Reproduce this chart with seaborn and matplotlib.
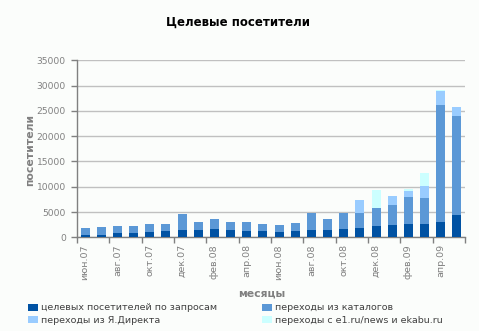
import matplotlib
matplotlib.use("Agg")
import matplotlib.pyplot as plt
from matplotlib.patches import Patch
from matplotlib.ticker import FixedLocator
import numpy as np
import pandas as pd
import seaborn as sns

# Monthly visitor sources, June 2007 - May 2009
months = ["июн.07", "июл.07", "авг.07", "сен.07", "окт.07", "ноя.07", "дек.07", "янв.08",
          "фев.08", "мар.08", "апр.08", "май.08", "июн.08", "июл.08", "авг.08", "сен.08",
          "окт.08", "ноя.08", "дек.08", "янв.09", "фев.09", "мар.09", "апр.09", "май.09"]
search_visits = [460, 460, 850, 850, 1050, 1250, 1450, 1450, 1650, 1450, 1250, 1200,
                 1000, 1190, 1390, 1390, 1620, 1830, 2220, 2420, 2620, 2600, 3000, 4380]
catalog_visits = [1380, 1580, 1390, 1390, 1580, 1380, 3150, 1580, 1970, 1580, 1780, 1400,
                  1400, 1580, 3430, 2180, 3280, 3040, 3650, 3980, 5380, 5140, 23150, 19600]
direct_visits = [0, 0, 0, 0, 0, 0, 0, 0, 0, 0, 0, 0,
                 0, 0, 0, 0, 0, 2530, 0, 1800, 1200, 2380, 2750, 1770]
news_visits = [0, 0, 0, 0, 0, 0, 0, 0, 0, 0, 0, 0,
               0, 0, 0, 0, 0, 0, 3530, 0, 400, 2580, 200, 0]

series_names = ["целевых посетителей по запросам", "переходы из каталогов",
                "переходы из Я.Директа", "переходы с e1.ru/news и ekabu.ru"]
colors = ["#0052A3", "#5B98D6", "#99CCFF", "#CCFFFF"]

df = pd.DataFrame({"month": months, "s1": search_visits, "s2": catalog_visits,
                   "s3": direct_visits, "s4": news_visits})
df["c1"] = df["s1"]
df["c2"] = df["c1"] + df["s2"]
df["c3"] = df["c2"] + df["s3"]
df["c4"] = df["c3"] + df["s4"]

bg = "#FBFDFB"
grey = "#808080"
sns.set_theme(style="white")
plt.rcParams["font.family"] = ["DejaVu Sans"]

fig = plt.figure(figsize=(4.79, 3.31), dpi=100, facecolor=bg)
ax = fig.add_axes([77 / 479, 1 - 237.3 / 331, 388 / 479, (237.3 - 60.3) / 331])
ax.set_facecolor(bg)

# Stacked bars: draw cumulative totals from the top layer down
for col, color in zip(["c4", "c3", "c2", "c1"], colors[::-1]):
    sns.barplot(data=df, x="month", y=col, color=color, saturation=1, width=0.56,
                order=months, ax=ax, linewidth=0, zorder=3)

ax.set_xlim(-0.5, len(months) - 0.5)
ax.set_ylim(0, 35000)
ax.set_yticks(np.arange(0, 35001, 5000))
ax.yaxis.grid(True, color="#C0C0C0", linewidth=1)
ax.set_axisbelow(True)
for side in ["top", "right"]:
    ax.spines[side].set_visible(False)
for side in ["left", "bottom"]:
    ax.spines[side].set_color(grey)
    ax.spines[side].set_linewidth(1)

ax.set_xticks(range(0, len(months), 2))
ax.set_xticklabels(months[::2], rotation=90, fontsize=6.8, color=grey)
ax.xaxis.set_minor_locator(FixedLocator(np.arange(-0.5, len(months), 2)))
ax.tick_params(axis="x", which="major", length=0, pad=5)
ax.tick_params(axis="x", which="minor", length=4, width=1, color=grey, direction="out", bottom=True)
ax.tick_params(axis="y", length=4, width=1, color=grey, direction="out", left=True,
               labelsize=6.6, labelcolor=grey, pad=4)

ax.set_xlabel("")
ax.set_ylabel("")
fig.text(30 / 479, 1 - 150 / 331, "посетители", rotation=90, ha="center", va="center",
         fontsize=7.8, fontweight="bold", color=grey)
fig.text(262 / 479, 1 - 294 / 331, "месяцы", ha="center", va="center",
         fontsize=7.8, fontweight="bold", color=grey)
fig.text(238 / 479, 1 - 22 / 331, "Целевые посетители", ha="center", va="center",
         fontsize=8.5, fontweight="bold", color="black")

handles = [Patch(facecolor=c, edgecolor="none") for c in colors]
legend_kw = dict(loc="upper left", frameon=False, fontsize=6.8, handlelength=1.05,
                 handleheight=0.75, handletextpad=0.3, labelspacing=0.35,
                 borderpad=0, borderaxespad=0, labelcolor="#404040")
fig.legend([handles[0], handles[2]], [series_names[0], series_names[2]],
           bbox_to_anchor=(28 / 479, 1 - 303.5 / 331), **legend_kw)
fig.legend([handles[1], handles[3]], [series_names[1], series_names[3]],
           bbox_to_anchor=(262 / 479, 1 - 303.5 / 331), **legend_kw)

fig.savefig("out.png", dpi=100, facecolor=bg)
